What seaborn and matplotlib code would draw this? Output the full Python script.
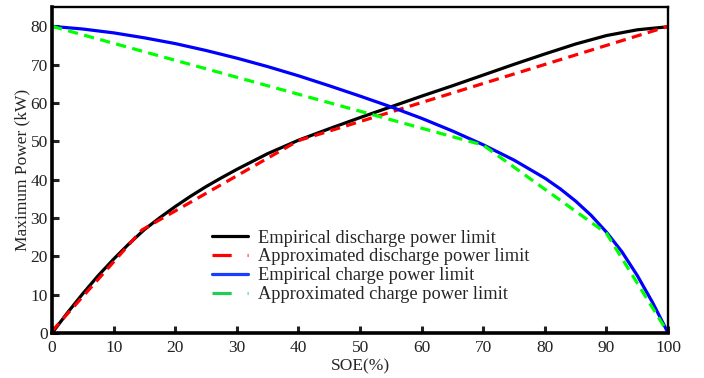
import matplotlib
matplotlib.use("Agg")
import matplotlib.pyplot as plt
import seaborn as sns
import pandas as pd
from matplotlib.lines import Line2D

# Empirical discharge power limit
soe_emp_dis = [0, 2.5, 5, 7.5, 10, 12.5, 15, 17.5, 20, 22.5, 25, 27.5, 30, 35, 40, 45, 50, 55, 60, 65, 70, 75, 80, 85, 90, 95, 100]
p_emp_dis = [0, 5.3, 10.3, 15, 19.3, 23.3, 27, 30.1, 33, 35.7, 38.2, 40.5, 42.7, 46.8, 50.3, 53.3, 56.2, 59, 61.8, 64.5, 67.3, 70.1, 72.8, 75.4, 77.6, 79.1, 79.9]

# Approximated discharge power limit
soe_app_dis = [0, 14.6, 40, 100]
p_app_dis = [0.5, 26.9, 50.2, 80]

# Empirical charge power limit
soe_emp_ch = [0, 5, 10, 15, 20, 25, 30, 35, 40, 45, 50, 55, 60, 65, 70, 75, 80, 82.5, 85, 87.5, 90, 92.5, 95, 97.5, 100]
p_emp_ch = [80, 79.3, 78.3, 77, 75.5, 73.7, 71.7, 69.5, 67.1, 64.5, 61.8, 59, 56, 52.7, 49.1, 45.1, 40.4, 37.6, 34.4, 30.7, 26.3, 21.2, 15, 7.9, 0]

# Approximated charge power limit
soe_app_ch = [0, 70, 90, 100]
p_app_ch = [80, 49, 26, 0]

labels = ["Empirical discharge power limit", "Approximated discharge power limit",
          "Empirical charge power limit", "Approximated charge power limit"]

sns.set_theme(style="white")
plt.rcParams['font.family'] = ['Liberation Serif', 'DejaVu Serif']

fig, ax = plt.subplots(figsize=(7.04, 3.78), dpi=100)
fig.subplots_adjust(left=0.074, right=0.949, bottom=0.119, top=0.981)

lw = 2.3
df1 = pd.DataFrame({"x": soe_emp_dis, "y": p_emp_dis})
df2 = pd.DataFrame({"x": soe_app_dis, "y": p_app_dis})
df3 = pd.DataFrame({"x": soe_emp_ch, "y": p_emp_ch})
df4 = pd.DataFrame({"x": soe_app_ch, "y": p_app_ch})

sns.lineplot(data=df1, x="x", y="y", ax=ax, color="black", lw=lw, sort=False, estimator=None)
sns.lineplot(data=df2, x="x", y="y", ax=ax, color="#ff0000", lw=lw, sort=False, estimator=None)
sns.lineplot(data=df3, x="x", y="y", ax=ax, color="#0000ff", lw=lw, sort=False, estimator=None)
sns.lineplot(data=df4, x="x", y="y", ax=ax, color="#00ff00", lw=lw, sort=False, estimator=None)
ax.lines[1].set_dashes([3.2, 2.0])
ax.lines[3].set_dashes([3.2, 2.0])

ax.set_xlim(0, 100)
ax.set_ylim(0, 85)
ax.set_xticks(range(0, 101, 10))
ax.set_yticks(range(0, 81, 10))
ax.set_xlabel("SOE(%)", fontsize=12.5, labelpad=2)
ax.set_ylabel("Maximum Power (kW)", fontsize=12.5, labelpad=0)
ax.tick_params(axis='both', direction='in', length=5, width=2.2, labelsize=12.5,
               colors='#222222', labelcolor='#222222', pad=3)
ax.tick_params(axis='x', pad=5)
ax.tick_params(top=False, right=False, bottom=True, left=True)

for side in ["left", "bottom"]:
    ax.spines[side].set_linewidth(2.6)
    ax.spines[side].set_color("black")
for side in ["top", "right"]:
    ax.spines[side].set_linewidth(1.7)
    ax.spines[side].set_color("black")

handles = [
    Line2D([0], [0], color="black", lw=lw),
    Line2D([0], [0], color="#ff0000", lw=lw, dashes=[6, 5]),
    Line2D([0], [0], color="#1a3cff", lw=lw),
    Line2D([0], [0], color="#22cc55", lw=lw, dashes=[6, 5]),
]
ax.legend(handles, labels, loc="upper left", bbox_to_anchor=(0.248, 0.34),
          frameon=False, fontsize=13.2, handlelength=1.97, handletextpad=0.55,
          labelspacing=0.1, borderaxespad=0)

fig.savefig("out.png", dpi=100)
